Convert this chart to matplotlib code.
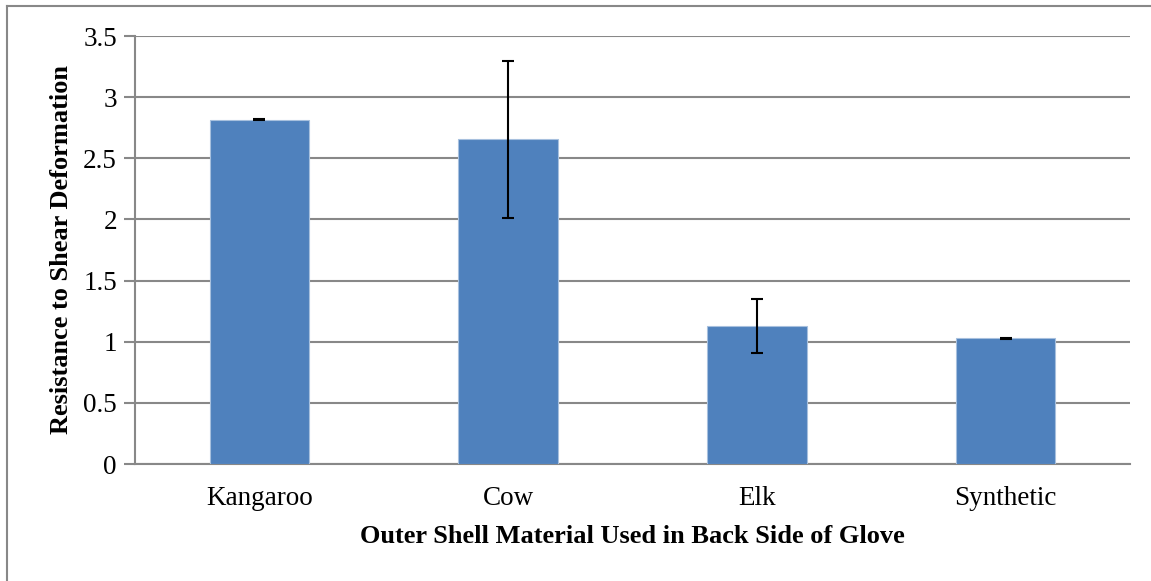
import matplotlib
matplotlib.use("Agg")
import matplotlib.pyplot as plt
from matplotlib.lines import Line2D

categories = ["Kangaroo", "Cow", "Elk", "Synthetic"]
values = [2.815, 2.655, 1.131, 1.027]
errors = [0.005, 0.641, 0.221, 0.004]
yticks = [0, 0.5, 1, 1.5, 2, 2.5, 3, 3.5]
ytick_labels = ["0", "0.5", "1", "1.5", "2", "2.5", "3", "3.5"]

plt.rcParams['font.family'] = ['Liberation Serif', 'DejaVu Serif']

W, H = 1151, 581
fig = plt.figure(figsize=(W / 100, H / 100), dpi=100)
ax = fig.add_axes([135 / W, 1 - 464 / H, (1130 - 135) / W, (464 - 36) / H])

grid_c = "#888888"
x = list(range(len(categories)))
ax.bar(x, values, width=0.4, color="#4F81BD", edgecolor="#A7C0DE", linewidth=0.8, zorder=3)
ax.errorbar(x, values, yerr=errors, fmt="none", ecolor="black", elinewidth=1.5,
            capsize=4.3, capthick=1.5, zorder=4)

ax.set_xlim(-0.5, len(categories) - 0.5)
ax.set_ylim(0, 3.5)
ax.set_yticks(yticks)
ax.set_yticklabels(ytick_labels)
ax.set_xticks(x)
ax.set_xticklabels(categories)
ax.yaxis.grid(True, color=grid_c, linewidth=1.5, zorder=0)
ax.set_axisbelow(True)

for s in ["top", "right"]:
    ax.spines[s].set_visible(False)
ax.spines["left"].set_color(grid_c)
ax.spines["left"].set_linewidth(1.5)
ax.spines["bottom"].set_color(grid_c)
ax.spines["bottom"].set_linewidth(1.5)

ax.tick_params(axis="y", length=8, width=1.5, color=grid_c, labelsize=19.5, pad=5)
ax.tick_params(axis="x", length=0, labelsize=19.5, pad=16)

ax.set_xlabel("Outer Shell Material Used in Back Side of Glove", fontsize=19,
              fontweight="bold", labelpad=10)
ax.set_ylabel("Resistance to Shear Deformation", fontsize=19, fontweight="bold", labelpad=7)

# outer chart border (top and left visible)
fig.add_artist(Line2D([7 / W, 1], [1 - 6 / H, 1 - 6 / H], color=grid_c, linewidth=1.5,
                      transform=fig.transFigure))
fig.add_artist(Line2D([7 / W, 7 / W], [0, 1 - 6 / H], color=grid_c, linewidth=1.5,
                      transform=fig.transFigure))

fig.savefig("out.png", dpi=100, facecolor="white")
